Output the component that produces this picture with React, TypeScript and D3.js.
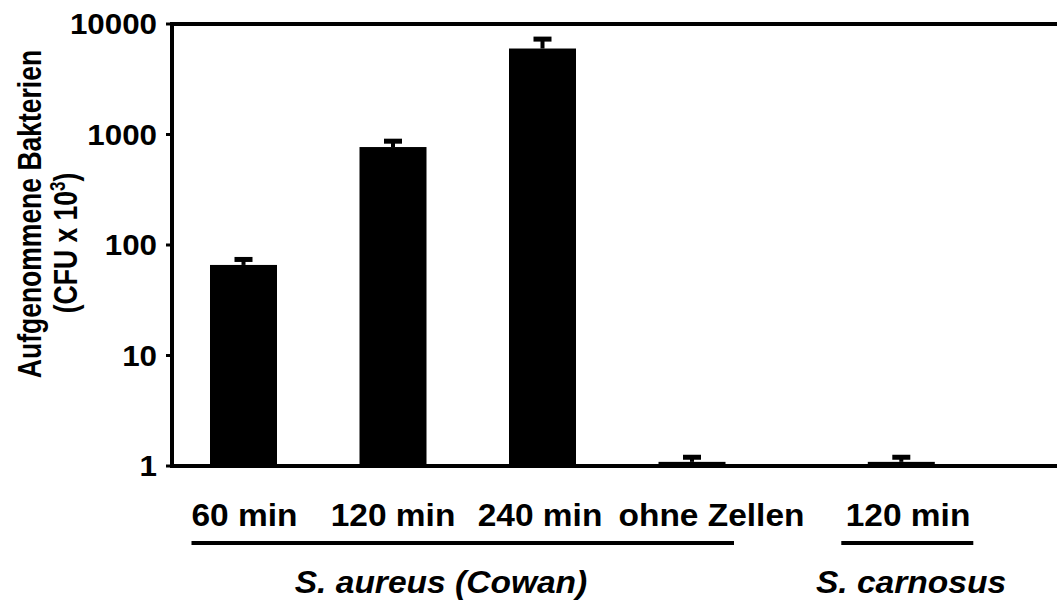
import React from "react";
import * as d3 from "d3";

const categories = ["60 min", "120 min", "240 min", "ohne Zellen", "120 min"];
const slots = [0, 1, 2, 3, 4.4];
const values = [66, 770, 6000, 1.09, 1.09];
const errors = [74, 870, 7300, 1.2, 1.2];
const yTicks = [1, 10, 100, 1000, 10000];
const groups = [
  { label: "S. aureus (Cowan)", first: 0, last: 3 },
  { label: "S. carnosus", first: 4, last: 4 },
];

const W = 1057;
const H = 601;
const FONT = "'Liberation Sans', Arial, Helvetica, sans-serif";

export default function App() {
  const left = 172;
  const top = 24;
  const bottom = 466;
  const y = d3.scaleLog().domain([1, 10000]).range([bottom, top]);
  const x = d3.scaleLinear().domain([0, 4]).range([243.5, 841.5]);
  const barW = 67;
  const capW = 18;
  const sx = 1.08;

  const labelDx = [1, 0, -2.5, 19.5, 6.7];
  const groupPad = [
    { l: 52, r: 42, cx: 441 },
    { l: 60, r: 72, cx: 911 },
  ];

  return (
    <svg
      width={W}
      height={H}
      style={{ position: "absolute", left: 0, top: 0, background: "#fff" }}
      fontFamily={FONT}
    >
      <rect width={W} height={H} fill="#fff" />
      {values.map((v, i) => {
        const cx = x(slots[i]);
        return (
          <g key={i}>
            <rect x={cx - barW / 2} y={y(v)} width={barW} height={y(1) - y(v)} fill="#000" />
            <line x1={cx} x2={cx} y1={y(v)} y2={y(errors[i])} stroke="#000" strokeWidth={4} />
            <rect x={cx - capW / 2} y={y(errors[i]) - 2.5} width={capW} height={5} fill="#000" />
          </g>
        );
      })}
      <line x1={left} x2={left} y1={top - 2} y2={bottom + 2} stroke="#000" strokeWidth={4} />
      <line x1={left - 2} x2={W} y1={top} y2={top} stroke="#000" strokeWidth={4} />
      <line x1={left - 2} x2={W} y1={bottom} y2={bottom} stroke="#000" strokeWidth={4} />
      {yTicks.map((t) => (
        <g key={t}>
          <line x1={left - 6} x2={left} y1={y(t)} y2={y(t)} stroke="#000" strokeWidth={3} />
          <text
            transform={`translate(${left - 15},${y(t)}) scale(${sx},1)`}
            dy="0.36em"
            textAnchor="end"
            fontSize={29}
            fontWeight="bold"
            fill="#000"
          >
            {d3.format("d")(t)}
          </text>
        </g>
      ))}
      <text
        transform={`translate(41,214) scale(1.25,1) rotate(-90)`}
        textAnchor="middle"
        fontSize={26.5}
        fontWeight="bold"
        fill="#000"
      >
        Aufgenommene Bakterien
      </text>
      <text
        transform={`translate(77,243) scale(1.25,1) rotate(-90)`}
        textAnchor="middle"
        fontSize={26.5}
        fontWeight="bold"
        fill="#000"
      >
        (CFU x 10<tspan dy={-10} fontSize={17}>3</tspan>
        <tspan dy={10}>)</tspan>
      </text>
      {categories.map((c, i) => (
        <text
          key={i}
          transform={`translate(${x(slots[i]) + labelDx[i]},526) scale(${sx},1)`}
          textAnchor="middle"
          fontSize={31}
          fontWeight="bold"
          fill="#000"
        >
          {c}
        </text>
      ))}
      {groups.map((g, i) => (
        <g key={i}>
          <line
            x1={x(slots[g.first]) - groupPad[i].l}
            x2={x(slots[g.last]) + groupPad[i].r}
            y1={543}
            y2={543}
            stroke="#000"
            strokeWidth={4}
          />
          <text
            transform={`translate(${groupPad[i].cx},593) scale(1.1,1)`}
            textAnchor="middle"
            fontSize={30.5}
            fontWeight="bold"
            fontStyle="italic"
            fill="#000"
          >
            {g.label}
          </text>
        </g>
      ))}
    </svg>
  );
}
